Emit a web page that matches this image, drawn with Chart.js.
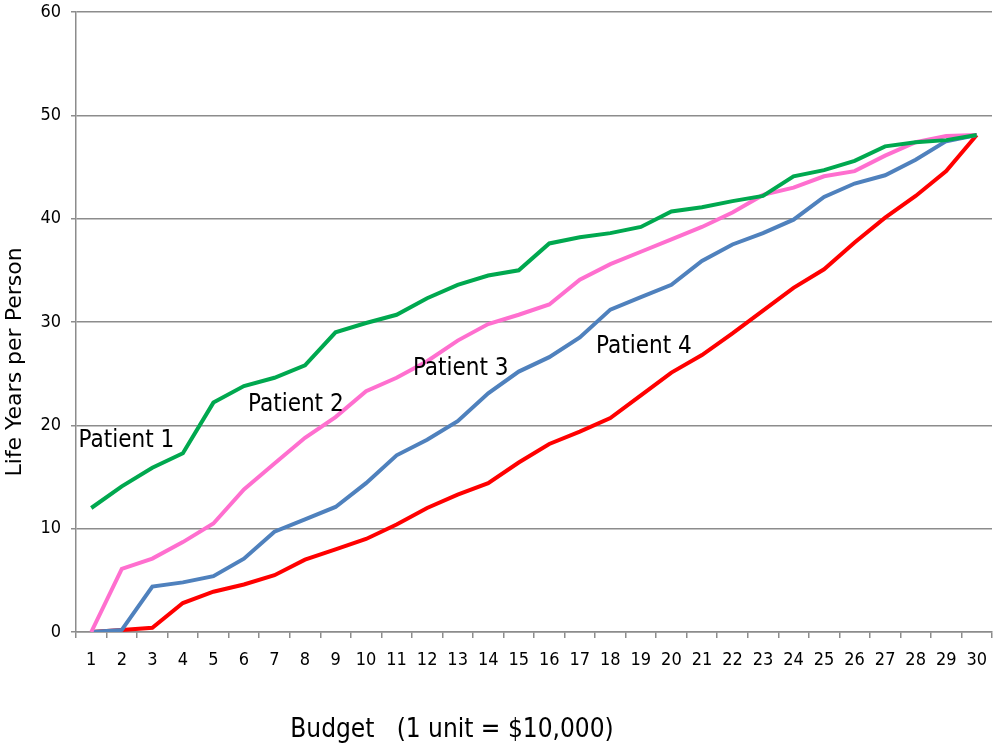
<!DOCTYPE html>
<html>
<head>
<meta charset="utf-8">
<script src="https://cdn.jsdelivr.net/npm/chart.js@4/dist/chart.umd.min.js"></script>
<style>
  html, body { margin: 0; padding: 0; background: #fff; }
  #wrap { width: 995px; height: 747px; position: relative; }
  #xTitle {
    position: absolute; left: 0; top: 713px; width: 904px;
    text-align: center; line-height: 30px; font-size: 26px; color: #000;
    font-family: "Liberation Sans Narrow", "Arial Narrow", "DejaVu Sans Condensed", sans-serif;
    white-space: pre;
  }
</style>
</head>
<body>
<div id="wrap"><canvas id="lifeChart"></canvas><div id="xTitle"></div></div>
<script>
const budgetUnits = Array.from({ length: 30 }, (_, i) => String(i + 1));

const patient1 = [12.0, 14.1, 15.9, 17.3, 22.2, 23.8, 24.6, 25.8, 29.0, 29.9,
                  30.7, 32.3, 33.6, 34.5, 35.0, 37.6, 38.2, 38.6, 39.2, 40.7,
                  41.1, 41.7, 42.2, 44.1, 44.7, 45.6, 47.0, 47.4, 47.6, 48.1];
const patient2 = [0.0, 6.1, 7.1, 8.7, 10.5, 13.8, 16.3, 18.8, 20.8, 23.3,
                  24.6, 26.2, 28.2, 29.8, 30.7, 31.7, 34.1, 35.6, 36.8, 38.0,
                  39.2, 40.6, 42.3, 43.0, 44.1, 44.6, 46.1, 47.4, 48.0, 48.1];
const patient3 = [0.0, 0.2, 4.4, 4.8, 5.4, 7.1, 9.7, 10.9, 12.1, 14.4,
                  17.1, 18.6, 20.4, 23.1, 25.2, 26.6, 28.5, 31.2, 32.4, 33.6,
                  35.9, 37.5, 38.6, 39.9, 42.1, 43.4, 44.2, 45.7, 47.5, 48.1];
const patient4 = [0.0, 0.2, 0.4, 2.8, 3.9, 4.6, 5.5, 7.0, 8.0, 9.0,
                  10.4, 12.0, 13.3, 14.4, 16.4, 18.2, 19.4, 20.7, 22.9, 25.1,
                  26.8, 28.9, 31.1, 33.3, 35.1, 37.7, 40.1, 42.2, 44.6, 48.1];

const seriesNames = ['Patient 1', 'Patient 2', 'Patient 3', 'Patient 4'];
// where each curve's name sits, in (budget unit, life years)
const labelSpots = [[2.15, 18.5], [7.7, 22.0], [13.1, 25.5], [19.1, 27.6]];

const xTitle = 'Budget   (1 unit = $10,000)';
const yTitle = 'Life Years per Person';

const narrow = '"Liberation Sans Narrow", "Arial Narrow", "DejaVu Sans Condensed", sans-serif';
const gridGrey = '#8c8c8c';

document.getElementById('xTitle').textContent = xTitle;

const curveLabels = {
  id: 'curveLabels',
  afterDraw(chart) {
    const { ctx, scales: { x, y } } = chart;
    ctx.save();
    ctx.fillStyle = '#000';
    ctx.textAlign = 'center';
    ctx.textBaseline = 'middle';
    ctx.font = '24px ' + narrow;
    seriesNames.forEach((name, i) => {
      const [u, v] = labelSpots[i];
      ctx.fillText(name, x.getPixelForValue(u - 1), y.getPixelForValue(v));
    });
    // y title sits below the middle of the axis in the original
    ctx.translate(15, 362);
    ctx.rotate(-Math.PI / 2);
    ctx.font = '22px "DejaVu Sans", Verdana, sans-serif';
    ctx.fillText(yTitle, 0, 0);
    ctx.restore();
  }
};

new Chart(document.getElementById('lifeChart'), {
  type: 'line',
  data: {
    labels: budgetUnits,
    datasets: [
      { label: 'Patient 1', data: patient1, borderColor: '#00a84f' },
      { label: 'Patient 2', data: patient2, borderColor: '#ff6fcf' },
      { label: 'Patient 3', data: patient3, borderColor: '#4f81bd' },
      { label: 'Patient 4', data: patient4, borderColor: '#ff0000' }
    ].map(d => Object.assign(d, { borderWidth: 4, pointRadius: 0, tension: 0, fill: false }))
  },
  options: {
    responsive: true,
    maintainAspectRatio: false,
    animation: false,
    layout: { padding: 0 },
    plugins: { legend: { display: false }, tooltip: { enabled: false } },
    scales: {
      x: {
        offset: true,
        grid: { offset: true, drawOnChartArea: false, color: gridGrey, tickLength: 6, lineWidth: 1.5 },
        border: { color: gridGrey, width: 1.5 },
        ticks: { color: '#000', font: { family: narrow, size: 18 }, padding: 12, maxRotation: 0, autoSkip: false },
        afterFit(scale) {
          scale.height = 115;
          scale.paddingLeft = 0;
          scale.paddingRight = 3;
        }
      },
      y: {
        min: 0,
        max: 60,
        ticks: { stepSize: 10, color: '#000', font: { family: narrow, size: 18 }, padding: 10 },
        grid: { color: gridGrey, tickLength: 5, lineWidth: 1.5 },
        border: { color: gridGrey, width: 1.5 },
        afterFit(scale) {
          scale.width = 76;
          scale.paddingTop = 12;
          scale.paddingBottom = 0;
        }
      }
    }
  },
  plugins: [curveLabels]
});
</script>
</body>
</html>
